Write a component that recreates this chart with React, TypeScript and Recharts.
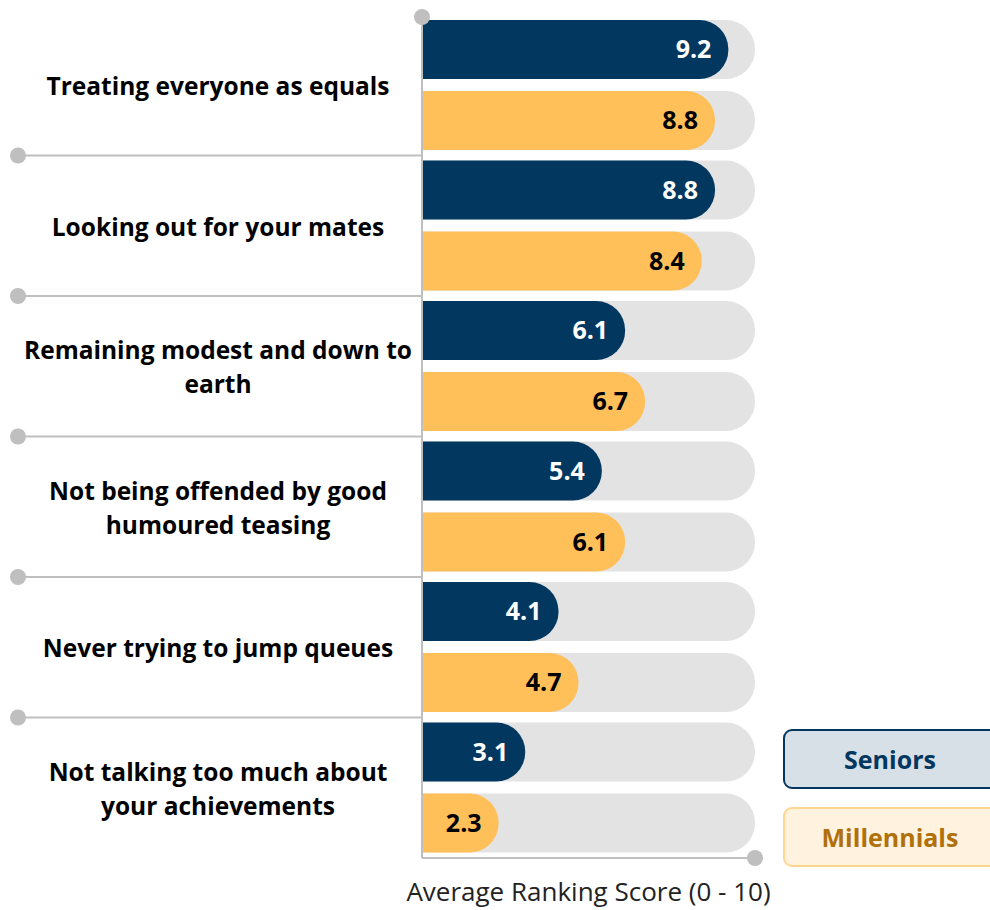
import { BarChart, Bar, XAxis, YAxis, LabelList, Legend } from 'recharts'

// values
const categories = [
  'Treating everyone as equals',
  'Looking out for your mates',
  'Remaining modest and down to\nearth',
  'Not being offended by good\nhumoured teasing',
  'Never trying to jump queues',
  'Not talking too much about\nyour achievements',
]
const seniors = [9.2, 8.8, 6.1, 5.4, 4.1, 3.1]
const millennials = [8.8, 8.4, 6.7, 6.1, 4.7, 2.3]
const seriesNames = ['Seniors', 'Millennials']
const xDomain = [0, 10]
const xLabel = 'Average Ranking Score (0 - 10)'

const data = categories.map((name, i) => ({
  name,
  seniors: seniors[i],
  millennials: millennials[i],
}))

const W = 990
const H = 910
const LEGEND_W = 220
// legend sits on the right, so its width is added to the right margin by recharts
const margin = { top: 15, right: 235 - LEGEND_W, bottom: 0, left: 0 }
const Y_AXIS_W = 422
const X_AXIS_H = 52
const FONT = '"Open Sans", Lato, sans-serif'
const NAVY = '#02375F'
const GOLD = '#FFBF59'
const GREY = '#BFBFBF'
const BG = '#E3E3E3'

const plotTop = margin.top
const plotBottom = H - margin.bottom - X_AXIS_H
const band = (plotBottom - plotTop) / categories.length

const CategoryTick = (props: any) => {
  const { y, payload, index } = props
  const lines = String(payload.value).split('\n')
  const lineH = 34
  const top = y - band / 2
  return (
    <g>
      {index === 0 ? (
        <circle cx={Y_AXIS_W} cy={top + 2} r={8} fill={GREY} />
      ) : (
        <g>
          <line x1={18} x2={Y_AXIS_W} y1={top} y2={top} stroke={GREY} strokeWidth={2} />
          <circle cx={18} cy={top} r={8} fill={GREY} />
        </g>
      )}
      <text
        x={218}
        y={y - ((lines.length - 1) * lineH) / 2}
        textAnchor="middle"
        dominantBaseline="central"
        fontFamily={FONT}
        fontWeight={700}
        fontSize={24.5}
        fill="#000"
      >
        {lines.map((l, i) => (
          <tspan key={i} x={218} dy={i === 0 ? 0 : lineH}>
            {l}
          </tspan>
        ))}
      </text>
    </g>
  )
}

const EndTick = (props: any) => {
  const { x, payload } = props
  if (payload.value !== xDomain[1]) return null
  return <circle cx={x} cy={plotBottom} r={8} fill={GREY} />
}

const LegendBoxes = () => {
  const items = [
    { name: seriesNames[0], bg: '#D7DFE7', border: NAVY, color: NAVY },
    { name: seriesNames[1], bg: '#FFF3DF', border: '#FFD68F', color: '#B0700A' },
  ]
  return (
    <div>
      {items.map((it, i) => (
        <div
          key={it.name}
          style={{
            boxSizing: 'border-box',
            width: LEGEND_W,
            height: 60,
            marginBottom: i === 0 ? 18 : 0,
            background: it.bg,
            border: `2px solid ${it.border}`,
            borderRadius: 9,
            display: 'flex',
            alignItems: 'center',
            fontFamily: FONT,
            fontWeight: 700,
            fontSize: 25,
            color: it.color,
          }}
        >
          <span style={{ width: 210, textAlign: 'center' }}>{it.name}</span>
        </div>
      ))}
    </div>
  )
}

export default function App() {
  return (
    <div style={{ position: 'absolute', left: 0, top: 0, width: W, height: H, overflow: 'hidden' }}>
      <BarChart
        width={W}
        height={H}
        data={data}
        layout="vertical"
        margin={margin}
        barSize={59}
        barGap={12}
      >
        <XAxis
          type="number"
          domain={xDomain}
          ticks={xDomain}
          height={X_AXIS_H}
          axisLine={{ stroke: GREY, strokeWidth: 2 }}
          tickLine={false}
          tick={<EndTick />}
          label={{
            value: xLabel,
            position: 'insideBottom',
            offset: 9,
            fill: '#222',
            fontSize: 26,
            fontFamily: FONT,
          }}
        />
        <YAxis
          type="category"
          dataKey="name"
          width={Y_AXIS_W}
          axisLine={{ stroke: GREY, strokeWidth: 2 }}
          tickLine={false}
          tick={<CategoryTick />}
          interval={0}
        />
        <Legend
          layout="vertical"
          align="right"
          verticalAlign="bottom"
          content={<LegendBoxes />}
          wrapperStyle={{ position: 'absolute', left: 783, top: 729, width: LEGEND_W, right: 'auto', bottom: 'auto' }}
        />
        <Bar
          dataKey="seniors"
          name={seriesNames[0]}
          fill={NAVY}
          radius={[0, 29, 29, 0]}
          background={{ fill: BG, radius: [0, 29, 29, 0] } as any}
          isAnimationActive={false}
        >
          <LabelList
            dataKey="seniors"
            position="insideRight"
            offset={17}
            fill="#fff"
            fontSize={25}
            fontWeight={700}
            fontFamily={FONT}
          />
        </Bar>
        <Bar
          dataKey="millennials"
          name={seriesNames[1]}
          fill={GOLD}
          radius={[0, 29, 29, 0]}
          background={{ fill: BG, radius: [0, 29, 29, 0] } as any}
          isAnimationActive={false}
        >
          <LabelList
            dataKey="millennials"
            position="insideRight"
            offset={17}
            fill="#000"
            fontSize={25}
            fontWeight={700}
            fontFamily={FONT}
          />
        </Bar>
      </BarChart>
    </div>
  )
}
